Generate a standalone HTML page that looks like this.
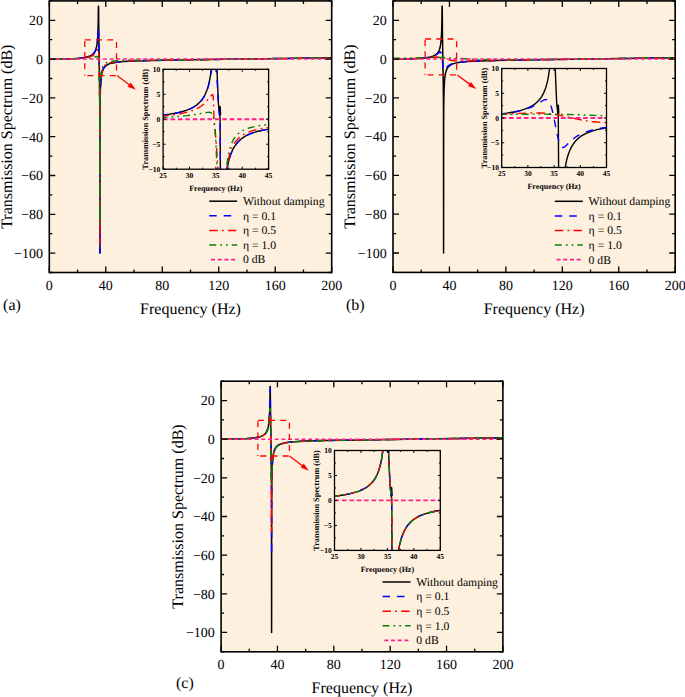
<!DOCTYPE html><html><head><meta charset="utf-8"><style>html,body{margin:0;padding:0;background:#fff;width:685px;height:697px;overflow:hidden}text{text-rendering:geometricPrecision}</style></head><body><svg width="685" height="697" viewBox="0 0 685 697" style="display:block">
<defs>
<clipPath id="cma"><rect x="49.3" y="0.9" width="282.4" height="271.6"/></clipPath>
<clipPath id="cia"><rect x="163.1" y="69.3" width="105.50000000000003" height="99.89999999999999"/></clipPath>
<clipPath id="cmb"><rect x="393.0" y="0.9" width="282.20000000000005" height="271.5"/></clipPath>
<clipPath id="cib"><rect x="501.7" y="68.5" width="104.80000000000001" height="99.0"/></clipPath>
<clipPath id="cmc"><rect x="221.1" y="381.2" width="281.79999999999995" height="270.59999999999997"/></clipPath>
<clipPath id="cic"><rect x="334.5" y="450.5" width="105.80000000000001" height="99.89999999999998"/></clipPath>
</defs>
<rect x="0" y="0" width="685" height="697" fill="#fff"/>
<rect x="49.3" y="0.9" width="282.4" height="271.6" fill="#FEF0DE"/>
<g clip-path="url(#cma)">
<path d="M49.30,59.10 L59.89,59.01 L69.07,58.76 L76.13,58.40 L81.78,57.88 L86.01,57.20 L89.19,56.32 L91.66,55.14 L93.50,53.64 L94.88,51.71 L95.92,49.22 L96.71,45.99 L97.31,41.78 L97.70,36.94 L97.99,30.83 L98.24,20.67 L98.39,6.33 L98.57,6.33 L98.79,33.39 L99.56,82.03 L99.81,108.77 L99.92,253.10 L99.97,126.68 L100.09,105.01 L100.35,91.20 L100.90,80.47 L101.31,76.59 L101.83,73.47 L102.49,70.95 L103.31,68.92 L104.37,67.21 L105.64,65.89 L107.26,64.77 L109.24,63.88 L111.71,63.15 L114.82,62.53 L118.70,62.01 L123.36,61.58 L136.14,60.93 L150.96,60.51 L173.56,60.09 L331.70,57.74" fill="none" stroke="#000000" stroke-width="1.5" stroke-linejoin="round"/>
<path d="M49.30,59.10 L66.95,58.84 L73.66,58.55 L79.30,58.15 L83.54,57.65 L87.07,56.96 L89.54,56.20 L91.72,55.13 L93.30,53.89 L94.57,52.31 L95.59,50.31 L96.38,47.84 L96.97,44.93 L97.44,41.38 L98.31,29.15 L98.47,28.29 L98.71,34.42 L99.37,69.67 L99.79,104.71 L99.91,145.73 L99.92,253.10 L99.97,126.86 L100.09,105.17 L100.36,91.15 L100.92,80.39 L101.33,76.54 L101.86,73.41 L102.53,70.86 L103.38,68.81 L104.44,67.14 L105.71,65.84 L107.33,64.74 L109.31,63.87 L111.78,63.13 L114.89,62.52 L118.77,62.00 L123.36,61.58 L136.14,60.93 L150.96,60.51 L173.56,60.09 L331.70,57.74" fill="none" stroke="#0000FF" stroke-width="1.5" stroke-linejoin="round" stroke-dasharray="7.5 7"/>
<path d="M49.30,59.12 L62.36,59.00 L73.30,58.69 L81.07,58.20 L86.72,57.49 L90.25,56.64 L91.77,56.05 L93.10,55.35 L94.34,54.43 L95.39,53.33 L97.70,49.67 L97.89,49.55 L98.06,49.60 L98.35,50.22 L98.75,53.57 L99.08,62.37 L99.62,97.96 L99.74,136.83 L99.76,243.40 L99.80,122.29 L99.91,102.96 L100.18,89.52 L100.74,79.03 L101.15,75.26 L101.67,72.21 L102.33,69.73 L103.17,67.76 L104.16,66.25 L105.43,65.00 L106.91,64.04 L108.67,63.27 L110.86,62.63 L113.55,62.10 L120.89,61.29 L131.41,60.78 L146.73,60.45 L331.70,57.74" fill="none" stroke="#FF0000" stroke-width="1.5" stroke-linejoin="round" stroke-dasharray="8.5 4.2 1.8 4.2"/>
<path d="M49.30,59.14 L69.42,58.95 L82.83,58.49 L90.25,57.80 L92.70,57.37 L96.77,56.40 L97.32,56.48 L97.74,56.77 L98.10,57.29 L98.40,58.07 L98.84,61.00 L99.16,67.65 L99.63,95.51 L99.77,132.08 L99.79,224.00 L99.85,117.93 L99.99,99.31 L100.27,86.39 L100.82,76.37 L101.22,72.79 L101.72,69.93 L102.33,67.69 L103.10,65.92 L104.09,64.49 L105.29,63.41 L106.49,62.71 L107.97,62.11 L111.85,61.23 L117.43,60.64 L125.19,60.30 L135.43,60.17 L173.56,60.08 L331.70,57.74" fill="none" stroke="#008000" stroke-width="1.5" stroke-linejoin="round" stroke-dasharray="7 4 1.8 4 1.8 4"/>
<path d="M49.30,59.10 L331.70,59.10" fill="none" stroke="#FF2090" stroke-width="1.5" stroke-linejoin="round" stroke-dasharray="4 2.7"/>
</g>
<path d="M49.30,272.50v-6M49.30,0.90v6M77.54,272.50v-3M77.54,0.90v3M105.78,272.50v-6M105.78,0.90v6M134.02,272.50v-3M134.02,0.90v3M162.26,272.50v-6M162.26,0.90v6M190.50,272.50v-3M190.50,0.90v3M218.74,272.50v-6M218.74,0.90v6M246.98,272.50v-3M246.98,0.90v3M275.22,272.50v-6M275.22,0.90v6M303.46,272.50v-3M303.46,0.90v3M331.70,272.50v-6M331.70,0.90v6M49.30,272.50h3M331.70,272.50h-3M49.30,253.10h6M331.70,253.10h-6M49.30,233.70h3M331.70,233.70h-3M49.30,214.30h6M331.70,214.30h-6M49.30,194.90h3M331.70,194.90h-3M49.30,175.50h6M331.70,175.50h-6M49.30,156.10h3M331.70,156.10h-3M49.30,136.70h6M331.70,136.70h-6M49.30,117.30h3M331.70,117.30h-3M49.30,97.90h6M331.70,97.90h-6M49.30,78.50h3M331.70,78.50h-3M49.30,59.10h6M331.70,59.10h-6M49.30,39.70h3M331.70,39.70h-3M49.30,20.30h6M331.70,20.30h-6M49.30,0.90h3M331.70,0.90h-3" stroke="#000" stroke-width="1.3" fill="none"/>
<rect x="49.3" y="0.9" width="282.4" height="271.6" fill="none" stroke="#000" stroke-width="1.6"/>
<text x="49.30" y="289.80" font-family="'Liberation Serif', serif" font-size="14" text-anchor="middle">0</text>
<text x="105.78" y="289.80" font-family="'Liberation Serif', serif" font-size="14" text-anchor="middle">40</text>
<text x="162.26" y="289.80" font-family="'Liberation Serif', serif" font-size="14" text-anchor="middle">80</text>
<text x="218.74" y="289.80" font-family="'Liberation Serif', serif" font-size="14" text-anchor="middle">120</text>
<text x="275.22" y="289.80" font-family="'Liberation Serif', serif" font-size="14" text-anchor="middle">160</text>
<text x="331.70" y="289.80" font-family="'Liberation Serif', serif" font-size="14" text-anchor="middle">200</text>
<text x="43.00" y="257.90" font-family="'Liberation Serif', serif" font-size="14" text-anchor="end">−100</text>
<text x="43.00" y="219.10" font-family="'Liberation Serif', serif" font-size="14" text-anchor="end">−80</text>
<text x="43.00" y="180.30" font-family="'Liberation Serif', serif" font-size="14" text-anchor="end">−60</text>
<text x="43.00" y="141.50" font-family="'Liberation Serif', serif" font-size="14" text-anchor="end">−40</text>
<text x="43.00" y="102.70" font-family="'Liberation Serif', serif" font-size="14" text-anchor="end">−20</text>
<text x="43.00" y="63.90" font-family="'Liberation Serif', serif" font-size="14" text-anchor="end">0</text>
<text x="43.00" y="25.10" font-family="'Liberation Serif', serif" font-size="14" text-anchor="end">20</text>
<text x="190.50" y="313.80" font-family="'Liberation Serif', serif" font-size="16" text-anchor="middle">Frequency (Hz)</text>
<text transform="translate(11.60,136.70) rotate(-90)" x="0" y="0" font-family="'Liberation Serif', serif" font-size="16" text-anchor="middle">Transmission Spectrum (dB)</text>
<text x="3.10" y="309.80" font-family="'Liberation Serif', serif" font-size="16">(a)</text>
<path d="M84.80,39.80 L116.50,39.80" fill="none" stroke="#FF0000" stroke-width="1.3" stroke-dasharray="6 5.2" stroke-dashoffset="0"/>
<path d="M116.50,39.80 L116.50,75.60" fill="none" stroke="#FF0000" stroke-width="1.3" stroke-dasharray="6 5.2" stroke-dashoffset="8.9"/>
<path d="M116.50,75.60 L84.80,75.60" fill="none" stroke="#FF0000" stroke-width="1.3" stroke-dasharray="6 5.2" stroke-dashoffset="10.5"/>
<path d="M84.80,75.60 L84.80,39.80" fill="none" stroke="#FF0000" stroke-width="1.3" stroke-dasharray="6 5.2" stroke-dashoffset="4.9"/>
<path d="M117.00,75.60 L129.90,85.29" stroke="#FF0000" stroke-width="1.3" fill="none"/>
<path d="M135.90,89.80 L127.54,86.77 L130.67,82.62 Z" fill="#FF0000"/>
<rect x="163.1" y="69.3" width="105.50000000000003" height="99.89999999999999" fill="#FEF0DE"/>
<g clip-path="url(#cia)">
<path d="M160.46,115.35 L168.38,114.35 L174.97,113.24 L178.93,112.40 L181.56,111.74 L184.20,110.99 L186.84,110.10 L189.47,109.06 L191.16,108.29 L193.17,107.24 L194.96,106.15 L196.65,104.96 L198.23,103.66 L199.60,102.36 L200.97,100.86 L202.24,99.25 L203.51,97.36 L204.56,95.51 L205.62,93.35 L206.57,91.07 L207.41,88.69 L208.25,85.88 L208.99,82.98 L209.63,80.06 L210.26,76.62 L211.37,68.80 L212.24,60.02 L212.99,49.32 L216.36,49.32 L217.24,76.40 L218.49,104.90 L220.07,117.82 L220.51,189.18 L224.54,189.18 L225.37,180.65 L226.35,173.20 L227.74,165.24 L228.39,162.22 L229.11,159.38 L229.86,156.83 L230.66,154.47 L231.53,152.27 L232.47,150.21 L233.52,148.21 L234.84,146.02 L235.89,144.47 L237.21,142.78 L238.53,141.34 L239.85,140.08 L241.17,138.97 L243.02,137.61 L244.60,136.58 L246.18,135.68 L248.03,134.76 L249.87,133.94 L254.09,132.42 L259.10,131.03 L264.64,129.85 L271.24,128.77" fill="none" stroke="#000000" stroke-width="1.4" stroke-linejoin="round"/>
<path d="M219.75,106.76 L220.18,114.25" stroke="#000" stroke-width="2.2" stroke-linecap="round" fill="none"/>
<path d="M160.46,115.36 L168.38,114.37 L174.97,113.27 L178.93,112.44 L181.56,111.79 L184.20,111.03 L186.84,110.16 L189.47,109.13 L191.27,108.31 L193.27,107.27 L195.17,106.11 L196.86,104.92 L198.44,103.63 L199.92,102.22 L201.29,100.70 L202.45,99.21 L203.51,97.66 L204.46,96.07 L205.41,94.24 L206.25,92.38 L207.09,90.25 L208.57,85.63 L209.41,82.31 L210.15,78.84 L210.82,75.14 L211.43,71.11 L212.54,61.83 L213.66,49.35 L215.69,49.32 L217.36,85.21 L218.49,107.75 L220.07,119.89 L220.51,189.18 L224.56,189.18 L225.40,180.64 L226.38,173.22 L227.76,165.33 L228.43,162.26 L229.14,159.42 L229.88,156.91 L230.68,154.55 L231.54,152.37 L232.47,150.32 L233.52,148.30 L234.84,146.11 L235.89,144.54 L237.21,142.85 L238.53,141.40 L239.85,140.13 L241.17,139.02 L243.02,137.65 L244.60,136.62 L246.18,135.71 L248.03,134.78 L249.87,133.97 L254.09,132.44 L259.10,131.04 L264.64,129.86 L271.24,128.78" fill="none" stroke="#0000FF" stroke-width="1.4" stroke-linejoin="round" stroke-dasharray="7.5 7"/>
<path d="M160.46,116.18 L165.74,115.69 L171.01,115.10 L176.29,114.38 L180.24,113.71 L184.20,112.91 L188.16,111.92 L191.37,110.93 L194.22,109.86 L196.65,108.77 L198.86,107.59 L200.97,106.25 L202.87,104.83 L204.67,103.25 L206.35,101.52 L211.26,95.64 L212.16,94.89 L212.72,94.66 L212.81,94.70 L212.99,95.26 L213.15,96.42 L213.44,100.88 L213.72,108.26 L214.00,119.41 L215.45,133.81 L216.79,150.56 L218.12,171.88 L218.98,189.18 L224.24,189.17 L225.02,181.42 L225.94,174.46 L227.89,162.46 L228.51,159.26 L229.20,156.28 L230.59,151.48 L231.37,149.32 L232.20,147.33 L232.99,145.69 L234.05,143.80 L235.10,142.17 L236.42,140.44 L237.74,138.97 L239.06,137.70 L240.38,136.60 L241.96,135.46 L243.54,134.47 L245.39,133.48 L247.24,132.62 L249.08,131.87 L251.19,131.12 L253.57,130.39 L258.58,129.15 L264.38,128.05 L271.24,127.08" fill="none" stroke="#FF0000" stroke-width="1.4" stroke-linejoin="round" stroke-dasharray="8.5 4.2 1.8 4.2"/>
<path d="M160.46,117.51 L174.97,116.69 L181.56,116.16 L186.84,115.63 L194.86,114.56 L205.19,112.69 L207.73,112.35 L209.31,112.32 L210.57,112.51 L211.19,112.86 L211.72,113.39 L212.28,114.27 L212.78,115.42 L213.23,116.88 L213.66,118.69 L214.35,123.21 L214.98,129.39 L215.54,137.06 L216.05,146.35 L216.50,157.23 L216.91,169.72 L217.57,178.81 L218.20,189.18 L223.92,189.18 L225.01,178.59 L225.67,173.59 L226.40,169.00 L227.19,162.23 L227.98,157.05 L228.88,152.47 L230.17,147.50 L230.89,145.28 L231.68,143.24 L232.47,141.47 L233.52,139.47 L234.58,137.80 L235.63,136.38 L236.69,135.16 L238.00,133.86 L239.32,132.76 L240.64,131.81 L242.22,130.84 L243.81,130.01 L245.65,129.19 L247.76,128.40 L249.87,127.73 L252.25,127.09 L257.52,125.97 L263.85,125.02 L271.24,124.21" fill="none" stroke="#008000" stroke-width="1.4" stroke-linejoin="round" stroke-dasharray="7 4 1.8 4 1.8 4"/>
<path d="M163.10,119.25 L268.60,119.25" fill="none" stroke="#FF2090" stroke-width="1.8" stroke-dasharray="4.6 2.8"/>
</g>
<path d="M163.10,169.20v-2.5M163.10,69.30v2.5M176.29,169.20v-1.5M176.29,69.30v1.5M189.47,169.20v-2.5M189.47,69.30v2.5M202.66,169.20v-1.5M202.66,69.30v1.5M215.85,169.20v-2.5M215.85,69.30v2.5M229.04,169.20v-1.5M229.04,69.30v1.5M242.23,169.20v-2.5M242.23,69.30v2.5M255.41,169.20v-1.5M255.41,69.30v1.5M268.60,169.20v-2.5M268.60,69.30v2.5M163.10,169.20h2.5M268.60,169.20h-2.5M163.10,156.71h1.5M268.60,156.71h-1.5M163.10,144.22h2.5M268.60,144.22h-2.5M163.10,131.74h1.5M268.60,131.74h-1.5M163.10,119.25h2.5M268.60,119.25h-2.5M163.10,106.76h1.5M268.60,106.76h-1.5M163.10,94.27h2.5M268.60,94.27h-2.5M163.10,81.79h1.5M268.60,81.79h-1.5M163.10,69.30h2.5M268.60,69.30h-2.5" stroke="#000" stroke-width="1" fill="none"/>
<rect x="163.1" y="69.3" width="105.50000000000003" height="99.89999999999999" fill="none" stroke="#000" stroke-width="1.3"/>
<text x="163.10" y="177.50" font-family="'Liberation Serif', serif" font-size="7.5" font-weight="bold" text-anchor="middle">25</text>
<text x="189.47" y="177.50" font-family="'Liberation Serif', serif" font-size="7.5" font-weight="bold" text-anchor="middle">30</text>
<text x="215.85" y="177.50" font-family="'Liberation Serif', serif" font-size="7.5" font-weight="bold" text-anchor="middle">35</text>
<text x="242.23" y="177.50" font-family="'Liberation Serif', serif" font-size="7.5" font-weight="bold" text-anchor="middle">40</text>
<text x="268.60" y="177.50" font-family="'Liberation Serif', serif" font-size="7.5" font-weight="bold" text-anchor="middle">45</text>
<text x="160.30" y="171.80" font-family="'Liberation Serif', serif" font-size="7.5" font-weight="bold" text-anchor="end">−10</text>
<text x="160.30" y="146.82" font-family="'Liberation Serif', serif" font-size="7.5" font-weight="bold" text-anchor="end">−5</text>
<text x="160.30" y="121.85" font-family="'Liberation Serif', serif" font-size="7.5" font-weight="bold" text-anchor="end">0</text>
<text x="160.30" y="96.87" font-family="'Liberation Serif', serif" font-size="7.5" font-weight="bold" text-anchor="end">5</text>
<text x="160.30" y="71.90" font-family="'Liberation Serif', serif" font-size="7.5" font-weight="bold" text-anchor="end">10</text>
<text x="215.85" y="190.60" font-family="'Liberation Serif', serif" font-size="8" font-weight="bold" text-anchor="middle">Frequency (Hz)</text>
<text transform="translate(147.90,119.25) rotate(-90)" font-family="'Liberation Serif', serif" font-size="8.2" font-weight="bold" text-anchor="middle">Transmission Spectrum (dB)</text>
<path d="M209.20,201.20 H237.20" fill="none" stroke="#000000" stroke-width="1.5" stroke-linejoin="round"/>
<text x="242.90" y="205.00" font-family="'Liberation Serif', serif" font-size="11.7">Without damping</text>
<path d="M209.20,215.80 H237.20" fill="none" stroke="#0000FF" stroke-width="1.5" stroke-linejoin="round" stroke-dasharray="7.5 7"/>
<text x="242.90" y="219.60" font-family="'Liberation Serif', serif" font-size="11.7">η = 0.1</text>
<path d="M209.20,230.40 H237.20" fill="none" stroke="#FF0000" stroke-width="1.5" stroke-linejoin="round" stroke-dasharray="8.5 4.2 1.8 4.2"/>
<text x="242.90" y="234.20" font-family="'Liberation Serif', serif" font-size="11.7">η = 0.5</text>
<path d="M209.20,245.00 H237.20" fill="none" stroke="#008000" stroke-width="1.5" stroke-linejoin="round" stroke-dasharray="7 4 1.8 4 1.8 4"/>
<text x="242.90" y="248.80" font-family="'Liberation Serif', serif" font-size="11.7">η = 1.0</text>
<path d="M211.00,259.60 H237.20" stroke="#FF2090" stroke-width="1.8" stroke-dasharray="4 2.7" fill="none"/>
<text x="242.90" y="263.40" font-family="'Liberation Serif', serif" font-size="11.7">0 dB</text>
<rect x="393.0" y="0.9" width="282.20000000000005" height="271.5" fill="#FEF0DE"/>
<g clip-path="url(#cmb)">
<path d="M393.00,59.08 L403.58,58.99 L412.75,58.74 L419.81,58.38 L425.45,57.86 L429.69,57.18 L432.86,56.30 L435.33,55.12 L437.16,53.62 L438.55,51.69 L439.59,49.20 L440.38,45.97 L440.97,41.76 L441.37,36.93 L441.66,30.81 L441.91,20.66 L442.06,6.33 L442.24,6.33 L442.45,33.37 L443.23,82.00 L443.48,108.73 L443.58,253.01 L443.63,126.63 L443.76,104.97 L444.02,91.17 L444.57,80.44 L444.98,76.57 L445.50,73.44 L446.15,70.93 L446.97,68.89 L448.03,67.19 L449.30,65.86 L450.92,64.75 L452.90,63.86 L455.37,63.12 L458.47,62.51 L462.35,61.99 L467.01,61.56 L479.78,60.91 L494.59,60.49 L517.17,60.07 L675.20,57.72" fill="none" stroke="#000000" stroke-width="1.5" stroke-linejoin="round"/>
<path d="M393.00,59.10 L404.64,58.99 L414.52,58.69 L421.93,58.24 L427.57,57.60 L431.45,56.81 L434.62,55.70 L436.88,54.37 L439.59,52.08 L440.32,51.86 L440.72,52.13 L441.09,52.79 L441.76,55.41 L442.31,59.07 L443.15,68.96 L443.44,70.26 L443.62,70.53 L443.87,70.63 L444.45,70.24 L446.44,67.56 L447.96,66.03 L449.79,64.80 L452.05,63.82 L455.15,62.96 L459.11,62.28 L464.26,61.72 L470.46,61.28 L485.42,60.70 L509.41,60.19 L675.20,57.71" fill="none" stroke="#0000FF" stroke-width="1.5" stroke-linejoin="round" stroke-dasharray="7.5 7"/>
<path d="M393.00,58.88 L404.29,58.78 L414.52,58.49 L422.98,58.05 L434.27,57.18 L438.10,57.09 L440.18,57.25 L442.20,57.59 L443.53,58.18 L447.46,59.41 L451.98,60.42 L456.78,60.90 L463.20,61.03 L512.94,60.10 L675.20,57.71" fill="none" stroke="#FF0000" stroke-width="1.5" stroke-linejoin="round" stroke-dasharray="8.5 4.2 1.8 4.2"/>
<path d="M393.00,58.23 L408.52,58.10 L433.21,57.60 L441.89,57.59 L451.20,57.96 L468.70,59.11 L477.52,59.54 L489.65,59.82 L504.47,59.89 L565.85,59.30 L675.20,57.71" fill="none" stroke="#008000" stroke-width="1.5" stroke-linejoin="round" stroke-dasharray="7 4 1.8 4 1.8 4"/>
<path d="M393.00,59.08 L675.20,59.08" fill="none" stroke="#FF2090" stroke-width="1.5" stroke-linejoin="round" stroke-dasharray="4 2.7"/>
</g>
<path d="M393.00,272.40v-6M393.00,0.90v6M421.22,272.40v-3M421.22,0.90v3M449.44,272.40v-6M449.44,0.90v6M477.66,272.40v-3M477.66,0.90v3M505.88,272.40v-6M505.88,0.90v6M534.10,272.40v-3M534.10,0.90v3M562.32,272.40v-6M562.32,0.90v6M590.54,272.40v-3M590.54,0.90v3M618.76,272.40v-6M618.76,0.90v6M646.98,272.40v-3M646.98,0.90v3M675.20,272.40v-6M675.20,0.90v6M393.00,272.40h3M675.20,272.40h-3M393.00,253.01h6M675.20,253.01h-6M393.00,233.61h3M675.20,233.61h-3M393.00,214.22h6M675.20,214.22h-6M393.00,194.83h3M675.20,194.83h-3M393.00,175.44h6M675.20,175.44h-6M393.00,156.04h3M675.20,156.04h-3M393.00,136.65h6M675.20,136.65h-6M393.00,117.26h3M675.20,117.26h-3M393.00,97.86h6M675.20,97.86h-6M393.00,78.47h3M675.20,78.47h-3M393.00,59.08h6M675.20,59.08h-6M393.00,39.69h3M675.20,39.69h-3M393.00,20.29h6M675.20,20.29h-6M393.00,0.90h3M675.20,0.90h-3" stroke="#000" stroke-width="1.3" fill="none"/>
<rect x="393.0" y="0.9" width="282.20000000000005" height="271.5" fill="none" stroke="#000" stroke-width="1.6"/>
<text x="393.00" y="289.70" font-family="'Liberation Serif', serif" font-size="14" text-anchor="middle">0</text>
<text x="449.44" y="289.70" font-family="'Liberation Serif', serif" font-size="14" text-anchor="middle">40</text>
<text x="505.88" y="289.70" font-family="'Liberation Serif', serif" font-size="14" text-anchor="middle">80</text>
<text x="562.32" y="289.70" font-family="'Liberation Serif', serif" font-size="14" text-anchor="middle">120</text>
<text x="618.76" y="289.70" font-family="'Liberation Serif', serif" font-size="14" text-anchor="middle">160</text>
<text x="675.20" y="289.70" font-family="'Liberation Serif', serif" font-size="14" text-anchor="middle">200</text>
<text x="386.70" y="257.81" font-family="'Liberation Serif', serif" font-size="14" text-anchor="end">−100</text>
<text x="386.70" y="219.02" font-family="'Liberation Serif', serif" font-size="14" text-anchor="end">−80</text>
<text x="386.70" y="180.24" font-family="'Liberation Serif', serif" font-size="14" text-anchor="end">−60</text>
<text x="386.70" y="141.45" font-family="'Liberation Serif', serif" font-size="14" text-anchor="end">−40</text>
<text x="386.70" y="102.66" font-family="'Liberation Serif', serif" font-size="14" text-anchor="end">−20</text>
<text x="386.70" y="63.88" font-family="'Liberation Serif', serif" font-size="14" text-anchor="end">0</text>
<text x="386.70" y="25.09" font-family="'Liberation Serif', serif" font-size="14" text-anchor="end">20</text>
<text x="534.10" y="313.70" font-family="'Liberation Serif', serif" font-size="16" text-anchor="middle">Frequency (Hz)</text>
<text transform="translate(355.30,136.65) rotate(-90)" x="0" y="0" font-family="'Liberation Serif', serif" font-size="16" text-anchor="middle">Transmission Spectrum (dB)</text>
<text x="346.00" y="310.20" font-family="'Liberation Serif', serif" font-size="16">(b)</text>
<path d="M425.10,39.00 L456.60,39.00" fill="none" stroke="#FF0000" stroke-width="1.3" stroke-dasharray="6 5.2" stroke-dashoffset="0"/>
<path d="M456.60,39.00 L456.60,74.80" fill="none" stroke="#FF0000" stroke-width="1.3" stroke-dasharray="6 5.2" stroke-dashoffset="8.9"/>
<path d="M456.60,74.80 L425.10,74.80" fill="none" stroke="#FF0000" stroke-width="1.3" stroke-dasharray="6 5.2" stroke-dashoffset="10.5"/>
<path d="M425.10,74.80 L425.10,39.00" fill="none" stroke="#FF0000" stroke-width="1.3" stroke-dasharray="6 5.2" stroke-dashoffset="4.9"/>
<path d="M457.30,75.00 L470.28,84.63" stroke="#FF0000" stroke-width="1.3" fill="none"/>
<path d="M476.30,89.10 L467.92,86.12 L471.02,81.95 Z" fill="#FF0000"/>
<rect x="501.7" y="68.5" width="104.80000000000001" height="99.0" fill="#FEF0DE"/>
<g clip-path="url(#cib)">
<path d="M499.08,114.13 L506.94,113.14 L513.49,112.05 L517.42,111.21 L520.04,110.56 L522.66,109.81 L525.28,108.93 L527.90,107.90 L529.58,107.13 L531.57,106.09 L533.35,105.01 L535.03,103.84 L536.60,102.55 L537.96,101.27 L539.32,99.78 L540.58,98.18 L541.84,96.30 L542.89,94.47 L543.93,92.33 L544.88,90.07 L545.72,87.71 L546.55,84.93 L547.29,82.06 L547.92,79.16 L548.55,75.75 L549.65,68.00 L550.52,59.30 L551.26,48.70 L554.60,48.70 L555.48,75.54 L556.72,103.78 L558.29,116.58 L558.73,187.30 L562.74,187.30 L563.55,178.85 L564.53,171.46 L565.91,163.58 L566.56,160.58 L567.27,157.77 L568.02,155.24 L568.81,152.91 L569.67,150.73 L570.61,148.68 L571.65,146.69 L572.96,144.53 L574.01,142.99 L575.32,141.32 L576.63,139.89 L577.94,138.64 L579.25,137.54 L581.09,136.19 L582.66,135.18 L584.23,134.28 L586.06,133.37 L587.90,132.56 L592.09,131.05 L597.07,129.67 L602.57,128.50 L609.12,127.43" fill="none" stroke="#000000" stroke-width="1.4" stroke-linejoin="round"/>
<path d="M557.98,105.62 L558.40,113.05" stroke="#000" stroke-width="2.2" stroke-linecap="round" fill="none"/>
<path d="M499.08,114.23 L506.94,113.27 L513.49,112.22 L518.73,111.15 L523.97,109.77 L528.74,108.16 L530.94,107.26 L533.14,106.25 L536.39,104.52 L542.15,100.99 L544.04,100.00 L544.98,99.68 L545.82,99.54 L546.55,99.59 L547.29,99.84 L547.92,100.26 L548.44,100.77 L549.02,101.52 L549.58,102.49 L550.64,104.95 L551.69,108.25 L552.58,111.72 L553.53,115.99 L557.42,135.45 L558.33,139.30 L559.19,142.29 L560.02,144.52 L560.86,146.10 L561.29,146.66 L561.73,147.07 L562.19,147.34 L562.67,147.47 L563.22,147.45 L563.81,147.26 L564.46,146.91 L565.19,146.38 L566.40,145.29 L571.39,140.41 L573.23,138.86 L575.06,137.47 L576.63,136.41 L578.47,135.31 L580.30,134.33 L582.40,133.35 L585.02,132.28 L587.64,131.37 L590.52,130.51 L593.66,129.70 L597.07,128.95 L600.74,128.26 L609.12,127.02" fill="none" stroke="#0000FF" stroke-width="1.4" stroke-linejoin="round" stroke-dasharray="7.5 7"/>
<path d="M499.08,114.51 L518.73,113.41 L528.84,112.99 L537.44,112.92 L541.21,113.03 L544.88,113.25 L550.86,113.85 L556.98,114.80 L562.56,115.90 L577.42,119.14 L582.13,120.03 L586.59,120.74 L591.83,121.43 L597.07,121.96 L602.83,122.38 L609.12,122.68" fill="none" stroke="#FF0000" stroke-width="1.4" stroke-linejoin="round" stroke-dasharray="8.5 4.2 1.8 4.2"/>
<path d="M499.08,114.48 L531.78,114.15 L544.98,114.15 L557.24,114.27 L569.23,114.50 L581.35,114.86 L594.19,115.36 L609.12,116.05" fill="none" stroke="#008000" stroke-width="1.4" stroke-linejoin="round" stroke-dasharray="7 4 1.8 4 1.8 4"/>
<path d="M501.70,118.00 L606.50,118.00" fill="none" stroke="#FF2090" stroke-width="1.8" stroke-dasharray="4.6 2.8"/>
</g>
<path d="M501.70,167.50v-2.5M501.70,68.50v2.5M514.80,167.50v-1.5M514.80,68.50v1.5M527.90,167.50v-2.5M527.90,68.50v2.5M541.00,167.50v-1.5M541.00,68.50v1.5M554.10,167.50v-2.5M554.10,68.50v2.5M567.20,167.50v-1.5M567.20,68.50v1.5M580.30,167.50v-2.5M580.30,68.50v2.5M593.40,167.50v-1.5M593.40,68.50v1.5M606.50,167.50v-2.5M606.50,68.50v2.5M501.70,167.50h2.5M606.50,167.50h-2.5M501.70,155.12h1.5M606.50,155.12h-1.5M501.70,142.75h2.5M606.50,142.75h-2.5M501.70,130.38h1.5M606.50,130.38h-1.5M501.70,118.00h2.5M606.50,118.00h-2.5M501.70,105.62h1.5M606.50,105.62h-1.5M501.70,93.25h2.5M606.50,93.25h-2.5M501.70,80.88h1.5M606.50,80.88h-1.5M501.70,68.50h2.5M606.50,68.50h-2.5" stroke="#000" stroke-width="1" fill="none"/>
<rect x="501.7" y="68.5" width="104.80000000000001" height="99.0" fill="none" stroke="#000" stroke-width="1.3"/>
<text x="501.70" y="175.80" font-family="'Liberation Serif', serif" font-size="7.5" font-weight="bold" text-anchor="middle">25</text>
<text x="527.90" y="175.80" font-family="'Liberation Serif', serif" font-size="7.5" font-weight="bold" text-anchor="middle">30</text>
<text x="554.10" y="175.80" font-family="'Liberation Serif', serif" font-size="7.5" font-weight="bold" text-anchor="middle">35</text>
<text x="580.30" y="175.80" font-family="'Liberation Serif', serif" font-size="7.5" font-weight="bold" text-anchor="middle">40</text>
<text x="606.50" y="175.80" font-family="'Liberation Serif', serif" font-size="7.5" font-weight="bold" text-anchor="middle">45</text>
<text x="498.90" y="170.10" font-family="'Liberation Serif', serif" font-size="7.5" font-weight="bold" text-anchor="end">−10</text>
<text x="498.90" y="145.35" font-family="'Liberation Serif', serif" font-size="7.5" font-weight="bold" text-anchor="end">−5</text>
<text x="498.90" y="120.60" font-family="'Liberation Serif', serif" font-size="7.5" font-weight="bold" text-anchor="end">0</text>
<text x="498.90" y="95.85" font-family="'Liberation Serif', serif" font-size="7.5" font-weight="bold" text-anchor="end">5</text>
<text x="498.90" y="71.10" font-family="'Liberation Serif', serif" font-size="7.5" font-weight="bold" text-anchor="end">10</text>
<text x="554.10" y="188.90" font-family="'Liberation Serif', serif" font-size="8" font-weight="bold" text-anchor="middle">Frequency (Hz)</text>
<text transform="translate(486.50,118.00) rotate(-90)" font-family="'Liberation Serif', serif" font-size="8.2" font-weight="bold" text-anchor="middle">Transmission Spectrum (dB)</text>
<path d="M554.80,201.30 H582.80" fill="none" stroke="#000000" stroke-width="1.5" stroke-linejoin="round"/>
<text x="588.60" y="205.10" font-family="'Liberation Serif', serif" font-size="11.7">Without damping</text>
<path d="M554.80,215.90 H582.80" fill="none" stroke="#0000FF" stroke-width="1.5" stroke-linejoin="round" stroke-dasharray="7.5 7"/>
<text x="588.60" y="219.70" font-family="'Liberation Serif', serif" font-size="11.7">η = 0.1</text>
<path d="M554.80,230.50 H582.80" fill="none" stroke="#FF0000" stroke-width="1.5" stroke-linejoin="round" stroke-dasharray="8.5 4.2 1.8 4.2"/>
<text x="588.60" y="234.30" font-family="'Liberation Serif', serif" font-size="11.7">η = 0.5</text>
<path d="M554.80,245.10 H582.80" fill="none" stroke="#008000" stroke-width="1.5" stroke-linejoin="round" stroke-dasharray="7 4 1.8 4 1.8 4"/>
<text x="588.60" y="248.90" font-family="'Liberation Serif', serif" font-size="11.7">η = 1.0</text>
<path d="M556.60,259.70 H582.80" stroke="#FF2090" stroke-width="1.8" stroke-dasharray="4 2.7" fill="none"/>
<text x="588.60" y="263.50" font-family="'Liberation Serif', serif" font-size="11.7">0 dB</text>
<rect x="221.1" y="381.2" width="281.79999999999995" height="270.59999999999997" fill="#FEF0DE"/>
<g clip-path="url(#cmc)">
<path d="M221.10,439.19 L231.67,439.09 L240.83,438.85 L247.87,438.49 L253.51,437.97 L257.73,437.29 L260.90,436.41 L263.37,435.24 L265.20,433.75 L266.58,431.82 L267.63,429.34 L268.41,426.12 L269.01,421.93 L269.40,417.11 L269.69,411.01 L269.94,400.90 L270.09,386.61 L270.27,386.61 L270.48,413.57 L271.26,462.03 L271.51,488.67 L271.61,632.47 L271.66,506.51 L271.78,484.93 L272.04,471.17 L272.59,460.48 L273.00,456.61 L273.52,453.50 L274.18,450.99 L274.99,448.97 L276.05,447.27 L277.32,445.95 L278.94,444.84 L280.91,443.95 L283.38,443.22 L286.48,442.60 L290.35,442.08 L295.00,441.66 L307.75,441.01 L322.55,440.59 L345.09,440.17 L502.90,437.83" fill="none" stroke="#000000" stroke-width="1.5" stroke-linejoin="round"/>
<path d="M221.10,439.19 L231.67,439.09 L240.83,438.85 L247.87,438.49 L253.51,437.97 L257.73,437.29 L260.90,436.41 L263.37,435.24 L265.09,433.86 L266.47,432.02 L267.54,429.60 L268.36,426.42 L268.95,422.44 L269.35,417.85 L269.65,412.07 L269.92,402.22 L270.07,388.54 L270.28,388.54 L270.51,415.82 L271.44,478.99 L271.61,555.16 L271.76,487.74 L272.01,472.43 L272.46,462.21 L272.81,458.23 L273.25,454.96 L273.81,452.28 L274.50,450.10 L275.35,448.32 L276.40,446.84 L277.67,445.66 L279.29,444.65 L281.19,443.85 L283.52,443.18 L286.34,442.63 L289.86,442.14 L298.74,441.41 L311.98,440.87 L347.91,440.12 L502.90,437.83" fill="none" stroke="#0000FF" stroke-width="1.5" stroke-linejoin="round" stroke-dasharray="7.5 7"/>
<path d="M221.10,439.19 L238.36,438.93 L245.05,438.66 L250.69,438.26 L254.92,437.78 L258.09,437.21 L260.90,436.41 L263.02,435.45 L264.61,434.32 L265.88,432.93 L266.89,431.21 L267.71,429.07 L268.44,425.97 L268.98,422.19 L269.39,417.33 L269.69,411.17 L270.45,411.16 L271.40,473.90 L271.62,531.96 L271.84,480.36 L272.17,467.61 L272.73,458.96 L273.14,455.65 L273.65,452.92 L274.28,450.67 L275.06,448.83 L275.98,447.36 L277.18,446.07 L278.59,445.04 L280.35,444.17 L282.39,443.48 L284.93,442.88 L291.62,441.95 L300.71,441.31 L314.09,440.80 L349.32,440.10 L502.90,437.83" fill="none" stroke="#FF0000" stroke-width="1.5" stroke-linejoin="round" stroke-dasharray="8.5 4.2 1.8 4.2"/>
<path d="M221.10,439.19 L238.71,438.92 L245.41,438.64 L251.04,438.23 L255.27,437.73 L258.79,437.05 L261.26,436.28 L263.37,435.24 L264.92,434.03 L266.16,432.53 L267.15,430.65 L267.94,428.28 L268.61,424.97 L269.11,420.85 L269.49,415.56 L269.77,408.65 L270.43,408.65 L271.24,460.81 L271.47,483.57 L271.80,483.64 L272.06,470.72 L272.49,461.82 L273.16,455.52 L273.61,453.10 L274.15,451.06 L274.85,449.26 L275.63,447.86 L276.54,446.69 L277.67,445.66 L279.01,444.80 L280.63,444.06 L282.53,443.44 L284.86,442.89 L290.28,442.09 L297.47,441.49 L307.05,441.03 L321.14,440.62 L352.84,440.05 L502.90,437.83" fill="none" stroke="#008000" stroke-width="1.5" stroke-linejoin="round" stroke-dasharray="7 4 1.8 4 1.8 4"/>
<path d="M221.10,439.19 L502.90,439.19" fill="none" stroke="#FF2090" stroke-width="1.5" stroke-linejoin="round" stroke-dasharray="4 2.7"/>
</g>
<path d="M221.10,651.80v-6M221.10,381.20v6M249.28,651.80v-3M249.28,381.20v3M277.46,651.80v-6M277.46,381.20v6M305.64,651.80v-3M305.64,381.20v3M333.82,651.80v-6M333.82,381.20v6M362.00,651.80v-3M362.00,381.20v3M390.18,651.80v-6M390.18,381.20v6M418.36,651.80v-3M418.36,381.20v3M446.54,651.80v-6M446.54,381.20v6M474.72,651.80v-3M474.72,381.20v3M502.90,651.80v-6M502.90,381.20v6M221.10,651.80h3M502.90,651.80h-3M221.10,632.47h6M502.90,632.47h-6M221.10,613.14h3M502.90,613.14h-3M221.10,593.81h6M502.90,593.81h-6M221.10,574.49h3M502.90,574.49h-3M221.10,555.16h6M502.90,555.16h-6M221.10,535.83h3M502.90,535.83h-3M221.10,516.50h6M502.90,516.50h-6M221.10,497.17h3M502.90,497.17h-3M221.10,477.84h6M502.90,477.84h-6M221.10,458.51h3M502.90,458.51h-3M221.10,439.19h6M502.90,439.19h-6M221.10,419.86h3M502.90,419.86h-3M221.10,400.53h6M502.90,400.53h-6M221.10,381.20h3M502.90,381.20h-3" stroke="#000" stroke-width="1.3" fill="none"/>
<rect x="221.1" y="381.2" width="281.79999999999995" height="270.59999999999997" fill="none" stroke="#000" stroke-width="1.6"/>
<text x="221.10" y="669.10" font-family="'Liberation Serif', serif" font-size="14" text-anchor="middle">0</text>
<text x="277.46" y="669.10" font-family="'Liberation Serif', serif" font-size="14" text-anchor="middle">40</text>
<text x="333.82" y="669.10" font-family="'Liberation Serif', serif" font-size="14" text-anchor="middle">80</text>
<text x="390.18" y="669.10" font-family="'Liberation Serif', serif" font-size="14" text-anchor="middle">120</text>
<text x="446.54" y="669.10" font-family="'Liberation Serif', serif" font-size="14" text-anchor="middle">160</text>
<text x="502.90" y="669.10" font-family="'Liberation Serif', serif" font-size="14" text-anchor="middle">200</text>
<text x="214.80" y="637.27" font-family="'Liberation Serif', serif" font-size="14" text-anchor="end">−100</text>
<text x="214.80" y="598.61" font-family="'Liberation Serif', serif" font-size="14" text-anchor="end">−80</text>
<text x="214.80" y="559.96" font-family="'Liberation Serif', serif" font-size="14" text-anchor="end">−60</text>
<text x="214.80" y="521.30" font-family="'Liberation Serif', serif" font-size="14" text-anchor="end">−40</text>
<text x="214.80" y="482.64" font-family="'Liberation Serif', serif" font-size="14" text-anchor="end">−20</text>
<text x="214.80" y="443.99" font-family="'Liberation Serif', serif" font-size="14" text-anchor="end">0</text>
<text x="214.80" y="405.33" font-family="'Liberation Serif', serif" font-size="14" text-anchor="end">20</text>
<text x="362.00" y="693.10" font-family="'Liberation Serif', serif" font-size="16" text-anchor="middle">Frequency (Hz)</text>
<text transform="translate(183.40,516.50) rotate(-90)" x="0" y="0" font-family="'Liberation Serif', serif" font-size="16" text-anchor="middle">Transmission Spectrum (dB)</text>
<text x="176.00" y="688.00" font-family="'Liberation Serif', serif" font-size="16">(c)</text>
<path d="M257.90,420.40 L289.40,420.40" fill="none" stroke="#FF0000" stroke-width="1.3" stroke-dasharray="6 5.2" stroke-dashoffset="0"/>
<path d="M289.40,420.40 L289.40,456.00" fill="none" stroke="#FF0000" stroke-width="1.3" stroke-dasharray="6 5.2" stroke-dashoffset="8.9"/>
<path d="M289.40,456.00 L257.90,456.00" fill="none" stroke="#FF0000" stroke-width="1.3" stroke-dasharray="6 5.2" stroke-dashoffset="10.5"/>
<path d="M257.90,456.00 L257.90,420.40" fill="none" stroke="#FF0000" stroke-width="1.3" stroke-dasharray="6 5.2" stroke-dashoffset="4.9"/>
<path d="M289.60,456.00 L302.93,466.16" stroke="#FF0000" stroke-width="1.3" fill="none"/>
<path d="M308.90,470.70 L300.56,467.62 L303.71,463.48 Z" fill="#FF0000"/>
<rect x="334.5" y="450.5" width="105.80000000000001" height="99.89999999999998" fill="#FEF0DE"/>
<g clip-path="url(#cic)">
<path d="M331.86,496.55 L339.79,495.55 L346.40,494.44 L350.37,493.60 L353.01,492.94 L355.66,492.19 L358.31,491.30 L360.95,490.26 L362.64,489.49 L364.65,488.44 L366.45,487.35 L368.14,486.16 L369.73,484.86 L371.11,483.56 L372.48,482.06 L373.75,480.45 L375.02,478.56 L376.08,476.71 L377.14,474.55 L378.09,472.27 L378.94,469.89 L379.78,467.08 L380.52,464.18 L381.16,461.26 L381.79,457.82 L382.90,450.00 L383.78,441.22 L384.53,430.52 L387.91,430.52 L388.80,457.60 L390.05,486.10 L391.63,499.02 L392.08,570.38 L396.12,570.38 L396.94,561.85 L397.93,554.40 L399.32,546.44 L399.98,543.42 L400.70,540.58 L401.45,538.03 L402.25,535.67 L403.12,533.47 L404.06,531.41 L405.12,529.41 L406.44,527.22 L407.50,525.67 L408.82,523.98 L410.15,522.54 L411.47,521.28 L412.79,520.17 L414.64,518.81 L416.23,517.78 L417.82,516.88 L419.67,515.96 L421.52,515.14 L425.75,513.62 L430.78,512.23 L436.33,511.05 L442.94,509.97" fill="none" stroke="#000000" stroke-width="1.4" stroke-linejoin="round"/>
<path d="M391.31,487.96 L391.74,495.45" stroke="#000" stroke-width="2.2" stroke-linecap="round" fill="none"/>
<path d="M331.86,496.55 L339.79,495.55 L346.40,494.44 L350.37,493.60 L353.01,492.94 L355.66,492.19 L358.31,491.30 L360.95,490.26 L362.64,489.49 L364.65,488.44 L366.45,487.35 L368.14,486.16 L369.73,484.86 L371.11,483.56 L372.48,482.06 L373.75,480.45 L375.02,478.56 L376.08,476.71 L377.14,474.55 L378.09,472.27 L378.94,469.89 L379.78,467.08 L380.52,464.18 L381.16,461.26 L381.79,457.82 L382.90,450.00 L383.78,441.22 L384.53,430.52 L387.91,430.52 L388.80,457.60 L390.05,486.10 L391.63,499.02 L392.08,570.38 L396.12,570.38 L396.94,561.85 L397.93,554.40 L399.32,546.44 L399.98,543.42 L400.70,540.58 L401.45,538.03 L402.25,535.67 L403.12,533.47 L404.06,531.41 L405.12,529.41 L406.44,527.22 L407.50,525.67 L408.82,523.98 L410.15,522.54 L411.47,521.28 L412.79,520.17 L414.64,518.81 L416.23,517.78 L417.82,516.88 L419.67,515.96 L421.52,515.14 L425.75,513.62 L430.78,512.23 L436.33,511.05 L442.94,509.97" fill="none" stroke="#0000FF" stroke-width="1.4" stroke-linejoin="round" stroke-dasharray="7.5 7"/>
<path d="M331.86,496.55 L339.79,495.55 L346.40,494.44 L350.37,493.60 L353.01,492.94 L355.66,492.19 L358.31,491.30 L360.95,490.26 L362.64,489.49 L364.65,488.44 L366.45,487.35 L368.14,486.16 L369.73,484.86 L371.11,483.56 L372.48,482.06 L373.75,480.45 L375.02,478.56 L376.08,476.71 L377.14,474.55 L378.09,472.27 L378.94,469.89 L379.78,467.08 L380.52,464.18 L381.16,461.26 L381.79,457.82 L382.90,450.00 L383.78,441.22 L384.53,430.52 L387.91,430.52 L388.80,457.60 L390.05,486.10 L391.63,499.02 L392.08,570.38 L396.12,570.38 L396.94,561.85 L397.93,554.40 L399.32,546.44 L399.98,543.42 L400.70,540.58 L401.45,538.03 L402.25,535.67 L403.12,533.47 L404.06,531.41 L405.12,529.41 L406.44,527.22 L407.50,525.67 L408.82,523.98 L410.15,522.54 L411.47,521.28 L412.79,520.17 L414.64,518.81 L416.23,517.78 L417.82,516.88 L419.67,515.96 L421.52,515.14 L425.75,513.62 L430.78,512.23 L436.33,511.05 L442.94,509.97" fill="none" stroke="#FF0000" stroke-width="1.4" stroke-linejoin="round" stroke-dasharray="8.5 4.2 1.8 4.2"/>
<path d="M331.86,496.55 L339.79,495.55 L346.40,494.44 L350.37,493.60 L353.01,492.94 L355.66,492.19 L358.31,491.30 L360.95,490.26 L362.64,489.49 L364.65,488.44 L366.45,487.35 L368.14,486.16 L369.73,484.86 L371.11,483.56 L372.48,482.06 L373.75,480.45 L375.02,478.56 L376.08,476.71 L377.14,474.55 L378.09,472.27 L378.94,469.89 L379.78,467.08 L380.52,464.18 L381.16,461.26 L381.79,457.82 L382.90,450.00 L383.78,441.22 L384.53,430.52 L387.91,430.52 L388.80,457.60 L390.05,486.10 L391.63,499.02 L392.08,570.38 L396.12,570.38 L396.94,561.85 L397.93,554.40 L399.32,546.44 L399.98,543.42 L400.70,540.58 L401.45,538.03 L402.25,535.67 L403.12,533.47 L404.06,531.41 L405.12,529.41 L406.44,527.22 L407.50,525.67 L408.82,523.98 L410.15,522.54 L411.47,521.28 L412.79,520.17 L414.64,518.81 L416.23,517.78 L417.82,516.88 L419.67,515.96 L421.52,515.14 L425.75,513.62 L430.78,512.23 L436.33,511.05 L442.94,509.97" fill="none" stroke="#008000" stroke-width="1.4" stroke-linejoin="round" stroke-dasharray="7 4 1.8 4 1.8 4"/>
<path d="M334.50,500.45 L440.30,500.45" fill="none" stroke="#FF2090" stroke-width="1.8" stroke-dasharray="4.6 2.8"/>
</g>
<path d="M334.50,550.40v-2.5M334.50,450.50v2.5M347.73,550.40v-1.5M347.73,450.50v1.5M360.95,550.40v-2.5M360.95,450.50v2.5M374.18,550.40v-1.5M374.18,450.50v1.5M387.40,550.40v-2.5M387.40,450.50v2.5M400.62,550.40v-1.5M400.62,450.50v1.5M413.85,550.40v-2.5M413.85,450.50v2.5M427.08,550.40v-1.5M427.08,450.50v1.5M440.30,550.40v-2.5M440.30,450.50v2.5M334.50,550.40h2.5M440.30,550.40h-2.5M334.50,537.91h1.5M440.30,537.91h-1.5M334.50,525.42h2.5M440.30,525.42h-2.5M334.50,512.94h1.5M440.30,512.94h-1.5M334.50,500.45h2.5M440.30,500.45h-2.5M334.50,487.96h1.5M440.30,487.96h-1.5M334.50,475.48h2.5M440.30,475.48h-2.5M334.50,462.99h1.5M440.30,462.99h-1.5M334.50,450.50h2.5M440.30,450.50h-2.5" stroke="#000" stroke-width="1" fill="none"/>
<rect x="334.5" y="450.5" width="105.80000000000001" height="99.89999999999998" fill="none" stroke="#000" stroke-width="1.3"/>
<text x="334.50" y="558.70" font-family="'Liberation Serif', serif" font-size="7.5" font-weight="bold" text-anchor="middle">25</text>
<text x="360.95" y="558.70" font-family="'Liberation Serif', serif" font-size="7.5" font-weight="bold" text-anchor="middle">30</text>
<text x="387.40" y="558.70" font-family="'Liberation Serif', serif" font-size="7.5" font-weight="bold" text-anchor="middle">35</text>
<text x="413.85" y="558.70" font-family="'Liberation Serif', serif" font-size="7.5" font-weight="bold" text-anchor="middle">40</text>
<text x="440.30" y="558.70" font-family="'Liberation Serif', serif" font-size="7.5" font-weight="bold" text-anchor="middle">45</text>
<text x="331.70" y="553.00" font-family="'Liberation Serif', serif" font-size="7.5" font-weight="bold" text-anchor="end">−10</text>
<text x="331.70" y="528.02" font-family="'Liberation Serif', serif" font-size="7.5" font-weight="bold" text-anchor="end">−5</text>
<text x="331.70" y="503.05" font-family="'Liberation Serif', serif" font-size="7.5" font-weight="bold" text-anchor="end">0</text>
<text x="331.70" y="478.08" font-family="'Liberation Serif', serif" font-size="7.5" font-weight="bold" text-anchor="end">5</text>
<text x="331.70" y="453.10" font-family="'Liberation Serif', serif" font-size="7.5" font-weight="bold" text-anchor="end">10</text>
<text x="387.40" y="571.80" font-family="'Liberation Serif', serif" font-size="8" font-weight="bold" text-anchor="middle">Frequency (Hz)</text>
<text transform="translate(319.30,500.45) rotate(-90)" font-family="'Liberation Serif', serif" font-size="8.2" font-weight="bold" text-anchor="middle">Transmission Spectrum (dB)</text>
<path d="M382.50,582.00 H410.50" fill="none" stroke="#000000" stroke-width="1.5" stroke-linejoin="round"/>
<text x="416.30" y="585.80" font-family="'Liberation Serif', serif" font-size="11.7">Without damping</text>
<path d="M382.50,596.60 H410.50" fill="none" stroke="#0000FF" stroke-width="1.5" stroke-linejoin="round" stroke-dasharray="7.5 7"/>
<text x="416.30" y="600.40" font-family="'Liberation Serif', serif" font-size="11.7">η = 0.1</text>
<path d="M382.50,611.20 H410.50" fill="none" stroke="#FF0000" stroke-width="1.5" stroke-linejoin="round" stroke-dasharray="8.5 4.2 1.8 4.2"/>
<text x="416.30" y="615.00" font-family="'Liberation Serif', serif" font-size="11.7">η = 0.5</text>
<path d="M382.50,625.80 H410.50" fill="none" stroke="#008000" stroke-width="1.5" stroke-linejoin="round" stroke-dasharray="7 4 1.8 4 1.8 4"/>
<text x="416.30" y="629.60" font-family="'Liberation Serif', serif" font-size="11.7">η = 1.0</text>
<path d="M384.30,640.40 H410.50" stroke="#FF2090" stroke-width="1.8" stroke-dasharray="4 2.7" fill="none"/>
<text x="416.30" y="644.20" font-family="'Liberation Serif', serif" font-size="11.7">0 dB</text>
</svg></body></html>
